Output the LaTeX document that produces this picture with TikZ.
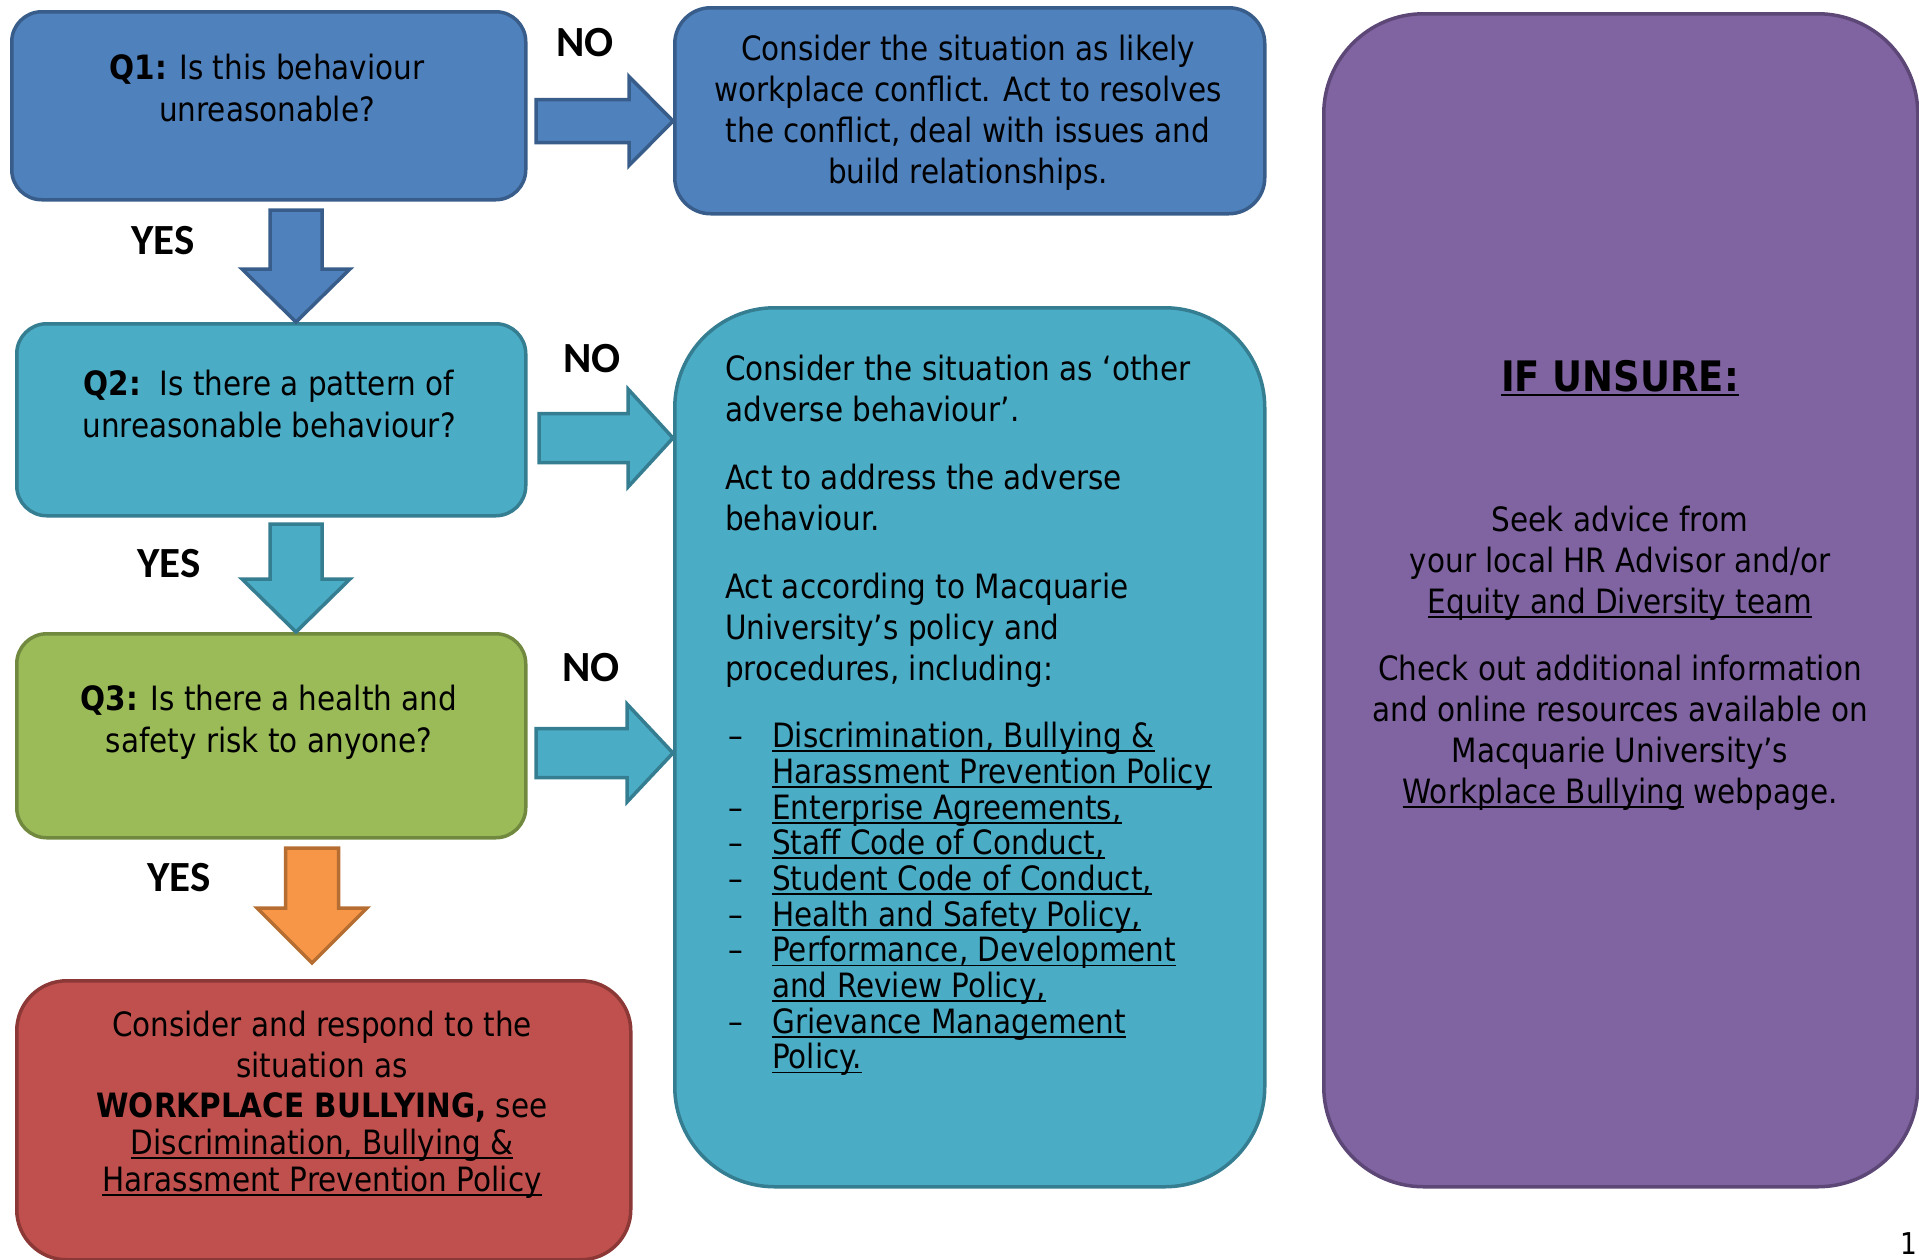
\documentclass[tikz,border=0pt]{standalone}
\usepackage{fontspec}
\setmainfont{DejaVu Sans}[FakeStretch=0.88]
\newfontfamily\lblfont{Carlito}
\usetikzlibrary{calc}
\definecolor{blueF}{HTML}{4F81BD}\definecolor{blueD}{HTML}{385D8A}
\definecolor{tealF}{HTML}{4BACC6}\definecolor{tealD}{HTML}{357D91}
\definecolor{greenF}{HTML}{9BBB59}\definecolor{greenD}{HTML}{71893F}
\definecolor{redF}{HTML}{C0504D}\definecolor{redD}{HTML}{8C3836}
\definecolor{purF}{HTML}{8064A2}\definecolor{purD}{HTML}{5C4776}
\definecolor{orF}{HTML}{F79646}\definecolor{orD}{HTML}{B66D31}
\newsavebox\ulbox
\newcommand\ul[1]{\sbox\ulbox{#1}\rlap{\rule[-4.5pt]{\wd\ulbox}{1.8pt}}\usebox\ulbox}
% right-pointing block arrow: style, tail, tip, shaft half, head half, head length
\newcommand\blockR[6]{\draw[#1] let \p1=(#2), \p2=(#3) in
  (\x1,\y1-#4) -- (\x2-#6,\y1-#4) -- (\x2-#6,\y1-#5) -- (\x2,\y1) --
  (\x2-#6,\y1+#5) -- (\x2-#6,\y1+#4) -- (\x1,\y1+#4) -- cycle;}
% down-pointing block arrow
\newcommand\blockD[6]{\draw[#1] let \p1=(#2), \p2=(#3) in
  (\x1-#4,\y1) -- (\x1-#4,\y2+#6) -- (\x1-#5,\y2+#6) -- (\x1,\y2) --
  (\x1+#5,\y2+#6) -- (\x1+#4,\y2+#6) -- (\x1+#4,\y1) -- cycle;}
\tikzset{
  box/.style={draw, line width=3.5pt, anchor=north west, inner sep=0pt},
  txt/.style={inner sep=0pt, font=\fontsize{33.5}{41}\selectfont},
  lbl/.style={inner sep=0pt, font=\lblfont\bfseries\fontsize{43}{50}\selectfont},
  barrow/.style={line width=3.5pt, line join=miter},
}
\begin{document}
\begin{tikzpicture}[x=1pt,y=-1pt]
\useasboundingbox (0,0) rectangle (1919,1259);
% boxes
\node[box, fill=blueF, draw=blueD, rounded corners=30pt, minimum width=514pt, minimum height=188pt] (q1) at (10,10) {};
\node[box, fill=blueF, draw=blueD, rounded corners=36pt, minimum width=590pt, minimum height=206pt] (bA) at (673,6) {};
\node[box, fill=tealF, draw=tealD, rounded corners=30pt, minimum width=509pt, minimum height=192pt] (q2) at (15,322) {};
\node[box, fill=tealF, draw=tealD, rounded corners=100pt, minimum width=590pt, minimum height=879pt] (bB) at (673,306) {};
\node[box, fill=greenF, draw=greenD, rounded corners=30pt, minimum width=509pt, minimum height=204pt] (q3) at (15,632) {};
\node[box, fill=redF, draw=redD, rounded corners=50pt, minimum width=614pt, minimum height=279pt] (bR) at (15,979) {};
\node[box, fill=purF, draw=purD, rounded corners=100pt, minimum width=594pt, minimum height=1173pt] (bP) at (1322,12) {};

% texts
\node[txt, anchor=north, align=center] (t1) at (267,54) {\textbf{Q1:} Is this behaviour\\[1pt]unreasonable?};
\node[txt, anchor=north, align=center] (tA) at (968,35) {Consider the situation as likely\\workplace conflict. Act to resolves\\the conflict, deal with issues and\\build relationships.};
\node[txt, anchor=north, align=center] (t2) at (269,370) {\textbf{Q2:}\ \ Is there a pattern of\\[1pt]unreasonable behaviour?};
\node[txt, anchor=north, align=center] (t3) at (269,685) {\textbf{Q3:} Is there a health and\\[1pt]safety risk to anyone?};
\node[txt, anchor=north, align=center] (tR) at (322,1011) {Consider and respond to the\\situation as\\[-1pt]\textbf{WORKPLACE BULLYING,} see\\[-4pt]\ul{Discrimination, Bullying \&}\\[-4pt]\ul{Harassment Prevention Policy}};
\node[txt, anchor=north west, align=left] (tB1) at (725,355) {Consider the situation as ‘other\\adverse behaviour’.};
\node[txt, anchor=north west, align=left] (tB2) at (725,464) {Act to address the adverse\\behaviour.};
\node[txt, anchor=north west, align=left] (tB3) at (725,573) {Act according to Macquarie\\University’s policy and\\procedures, including:};
\node[txt, anchor=north west, align=left, font=\fontsize{33.5}{35.7}\selectfont] (tL) at (728,722) {%
\makebox[44pt][l]{–}\ul{Discrimination, Bullying \&}\\
\makebox[44pt][l]{}\ul{Harassment Prevention Policy}\\
\makebox[44pt][l]{–}\ul{Enterprise Agreements,}\\
\makebox[44pt][l]{–}\ul{Staff Code of Conduct,}\\
\makebox[44pt][l]{–}\ul{Student Code of Conduct,}\\
\makebox[44pt][l]{–}\ul{Health and Safety Policy,}\\
\makebox[44pt][l]{–}\ul{Performance, Development}\\
\makebox[44pt][l]{}\ul{and Review Policy,}\\
\makebox[44pt][l]{–}\ul{Grievance Management}\\
\makebox[44pt][l]{}\ul{Policy.}};
\node[inner sep=0pt, anchor=base, font=\bfseries\fontsize{42}{48}\selectfont] (tP0) at (1620,391.5) {\ul{IF UNSURE:}};
\node[txt, anchor=north, align=center] (tP1) at (1620,506) {Seek advice from\\your local HR Advisor and/or\\\ul{Equity and Diversity team}};
\node[txt, anchor=north, align=center] (tP2) at (1620,655) {Check out additional information\\and online resources available on\\Macquarie University’s\\\ul{Workplace Bullying} webpage.};
\node[inner sep=0pt, anchor=base east, font=\fontsize{30}{36}\selectfont] (pg) at (1917,1254) {1};

% arrows
\coordinate (n1s) at (536,121);
\coordinate (n2s) at (539,438);
\coordinate (n3s) at (536,753);
\blockR{barrow, fill=blueF, draw=blueD}{n1s}{bA.west |- n1s}{21.5pt}{44.5pt}{44pt}
\blockR{barrow, fill=tealF, draw=tealD}{n2s}{bB.west |- n2s}{24.5pt}{49pt}{45pt}
\blockR{barrow, fill=tealF, draw=tealD}{n3s}{bB.west |- n3s}{24.5pt}{49pt}{46pt}
\coordinate (y1s) at (296,210);
\coordinate (y2s) at (296,524);
\coordinate (y3s) at (312,848);
\blockD{barrow, fill=blueF, draw=blueD}{y1s}{y1s |- q2.north}{26pt}{54pt}{53pt}
\blockD{barrow, fill=tealF, draw=tealD}{y2s}{y2s |- q3.north}{26pt}{54pt}{53pt}
\blockD{barrow, fill=orF, draw=orD}{y3s}{312,963}{26.5pt}{55pt}{55pt}

% labels
\node[lbl] (no1) at (585,43) {NO};
\node[lbl] (no2) at (592,359) {NO};
\node[lbl] (no3) at (591,668) {NO};
\node[lbl] (yes1) at (163,241) {YES};
\node[lbl] (yes2) at (169,564) {YES};
\node[lbl] (yes3) at (179,878) {YES};
\end{tikzpicture}
\end{document}
